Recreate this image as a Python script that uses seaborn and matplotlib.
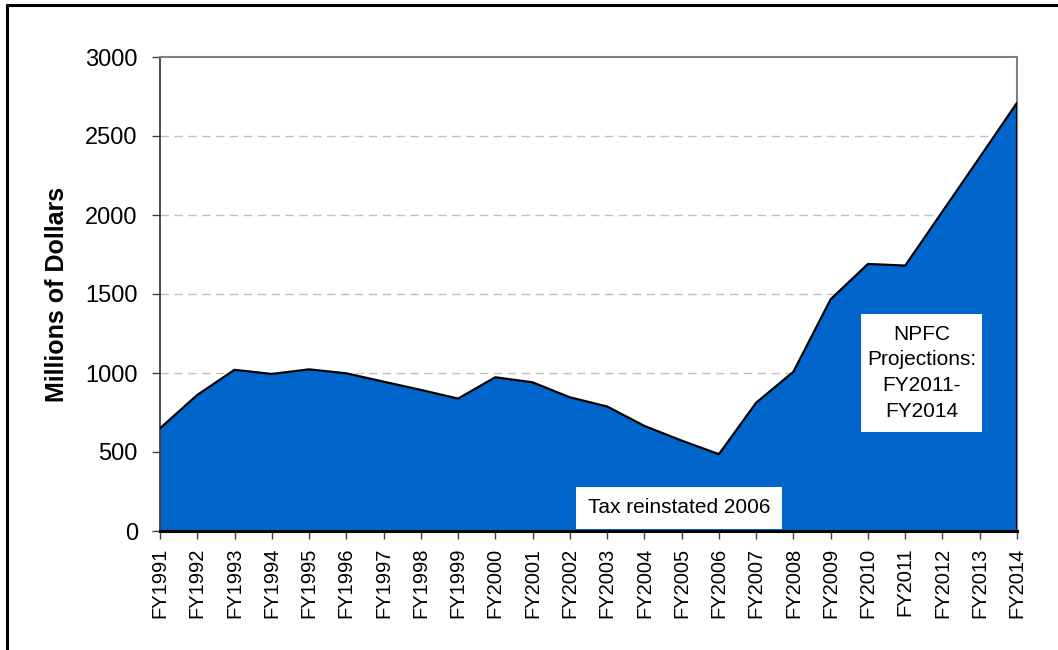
import matplotlib
matplotlib.use("Agg")
import matplotlib.pyplot as plt
from matplotlib.lines import Line2D
from matplotlib.patches import Rectangle
import seaborn as sns
import numpy as np
import pandas as pd

years = ["FY1991", "FY1992", "FY1993", "FY1994", "FY1995", "FY1996", "FY1997",
         "FY1998", "FY1999", "FY2000", "FY2001", "FY2002", "FY2003", "FY2004",
         "FY2005", "FY2006", "FY2007", "FY2008", "FY2009", "FY2010", "FY2011",
         "FY2012", "FY2013", "FY2014"]
revenue = [650, 861, 1020, 994, 1023, 998, 945, 893, 838, 973, 941, 846, 788,
           665, 572, 486, 812, 1008, 1467, 1690, 1680, 2022, 2365, 2710]
y_ticks = [0, 500, 1000, 1500, 2000, 2500, 3000]
label_tax = "Tax reinstated 2006"
label_npfc = "NPFC\nProjections:\nFY2011-\nFY2014"
y_title = "Millions of Dollars"

sns.set_theme(style="white")
plt.rcParams["font.family"] = ["Liberation Sans", "DejaVu Sans"]
plt.rcParams["text.color"] = "black"
plt.rcParams["axes.labelcolor"] = "black"
plt.rcParams["xtick.color"] = "black"
plt.rcParams["ytick.color"] = "black"

df = pd.DataFrame({"pos": np.arange(len(years)), "value": revenue})

fig = plt.figure(figsize=(10.58, 6.5), dpi=100)
ax = fig.add_axes([160 / 1058, 1 - 531 / 650, (1017 - 160) / 1058, (531 - 57) / 650])

ax.fill_between(df["pos"], df["value"], 0, color="#0066CC", linewidth=0, zorder=2)
sns.lineplot(data=df, x="pos", y="value", ax=ax, color="black", linewidth=1.6,
             zorder=3)
# right edge of the area
ax.plot([df["pos"].iloc[-1]] * 2, [0, df["value"].iloc[-1]], color="black",
        lw=1.6, zorder=3, solid_capstyle="butt")

ax.set_xlim(0, len(years) - 1)
ax.set_ylim(0, 3000)
ax.set_yticks(y_ticks)
ax.set_yticklabels([str(t) for t in y_ticks], fontsize=17, color="black")
ax.set_xticks(np.arange(len(years)))
ax.set_xticklabels(years, rotation=90, fontsize=14.5, color="black")
ax.set_xlabel("")
ax.set_ylabel(y_title, fontsize=18, fontweight="bold", labelpad=12,
              color="black")

for t in y_ticks[1:-1]:
    ax.axhline(t, color="#c0c0c0", lw=1.0, ls=(0, (6, 4)), zorder=1)

ax.tick_params(axis="y", which="both", left=True, length=6, width=1,
               color="#404040", pad=10, direction="out", labelcolor="black")
ax.tick_params(axis="x", which="both", bottom=True, length=6, width=1,
               color="#404040", pad=6, direction="out", labelcolor="black")

for s in ["top", "right"]:
    ax.spines[s].set_color("#808080")
    ax.spines[s].set_linewidth(1.5)
ax.spines["left"].set_color("#303030")
ax.spines["left"].set_linewidth(1.2)
ax.spines["bottom"].set_color("black")
ax.spines["bottom"].set_linewidth(2.2)
ax.spines["bottom"].set_zorder(4)

# annotation boxes
ax.add_patch(Rectangle((11.16, 12), 16.69 - 11.16, 280 - 12, facecolor="white",
                       edgecolor="none", zorder=5))
ax.text(13.93, 150, label_tax, ha="center", va="center", fontsize=15,
        color="black", zorder=6)
ax.add_patch(Rectangle((18.81, 629), 22.06 - 18.81, 1374 - 629,
                       facecolor="white", edgecolor="none", zorder=5))
ax.text(20.44, 1001, label_npfc, ha="center", va="center", fontsize=15,
        color="black", linespacing=1.45, zorder=6)

# outer frame (left and top only)
fig.add_artist(Line2D([7 / 1058, 7 / 1058], [0, 1 - 5 / 650], color="black",
                      lw=2.2, transform=fig.transFigure))
fig.add_artist(Line2D([7 / 1058, 1], [1 - 5 / 650, 1 - 5 / 650], color="black",
                      lw=2.2, transform=fig.transFigure))

fig.savefig("out.png", dpi=100)
